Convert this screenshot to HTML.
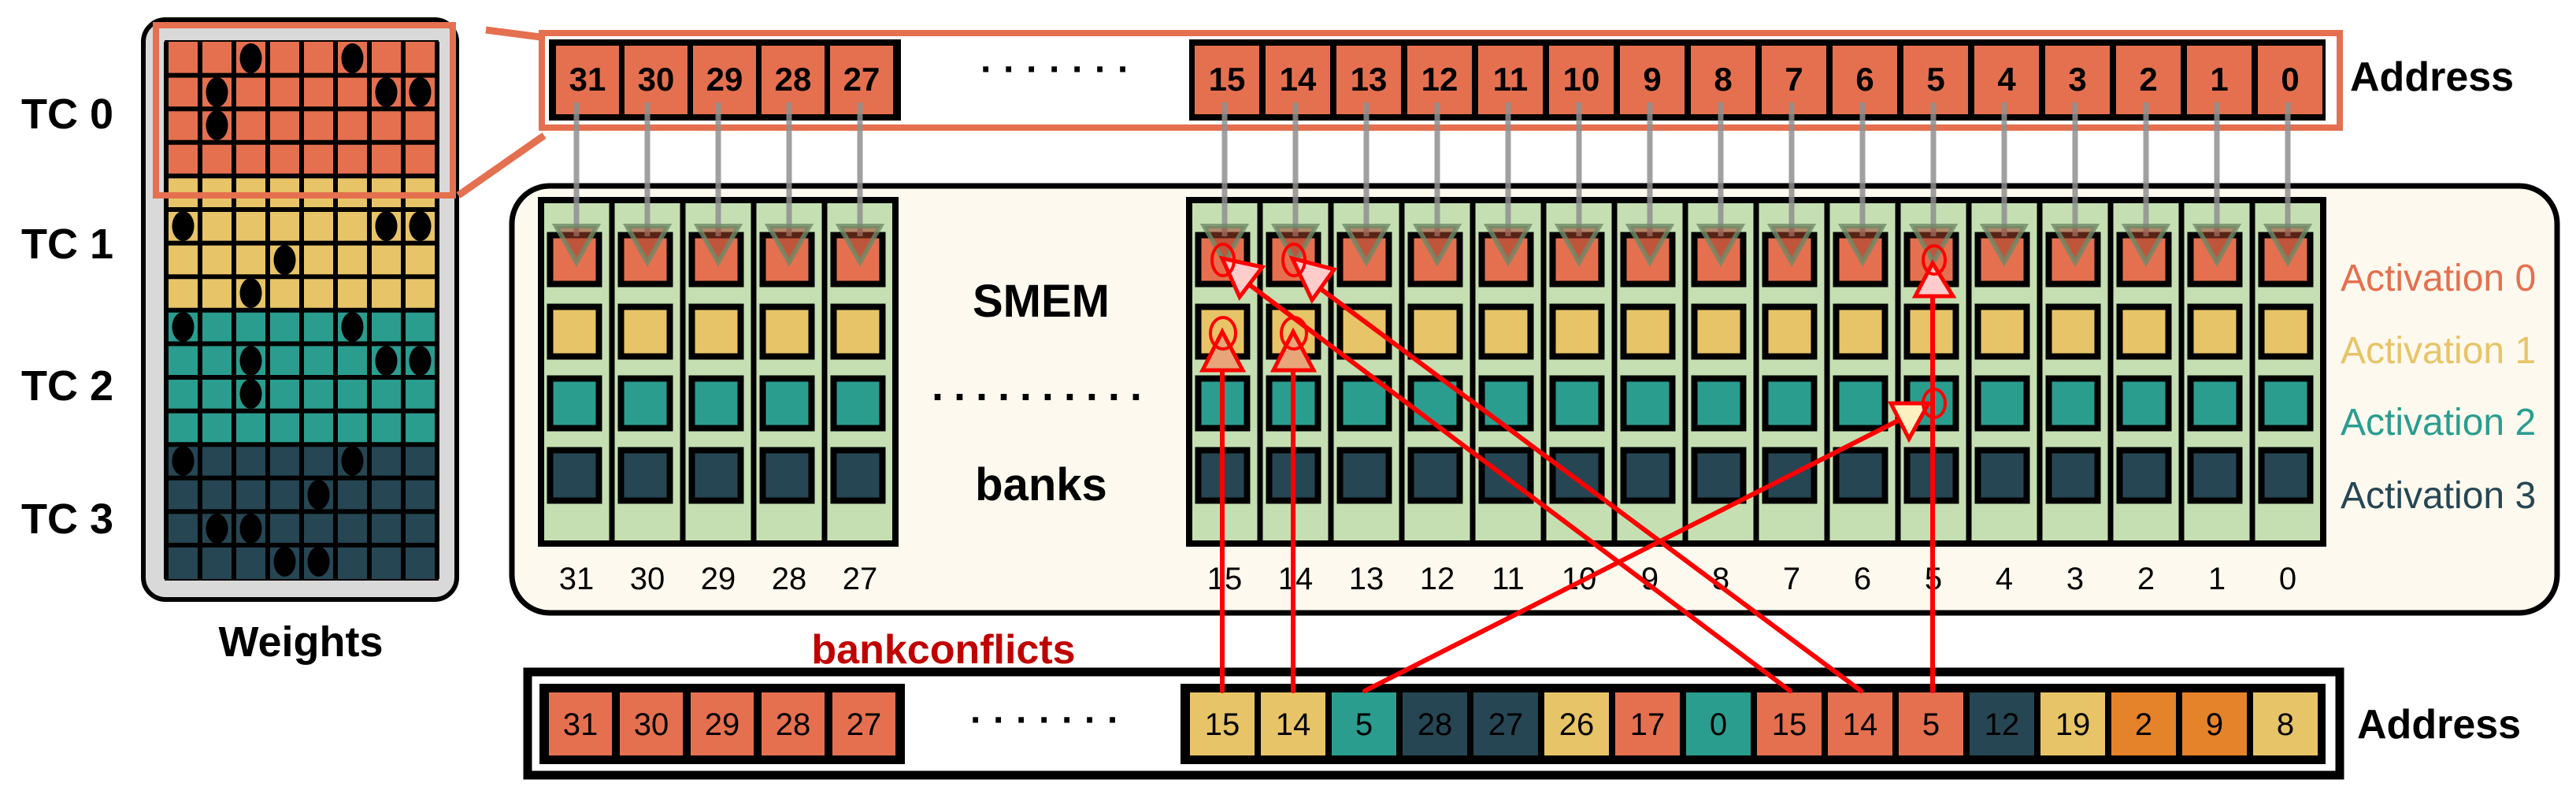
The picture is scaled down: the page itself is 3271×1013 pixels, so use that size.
<!DOCTYPE html>
<html><head><meta charset="utf-8"><style>
html,body{margin:0;padding:0;background:#fff;}
svg{display:block;}
text{font-family:"Liberation Sans",sans-serif;}
</style></head><body>
<svg width="3271" height="1013" viewBox="0 0 3271 1013" xmlns="http://www.w3.org/2000/svg">
<defs>
<g id="col">
<rect x="11.5" y="298.5" width="62" height="62" fill="#e5704f" stroke="#000" stroke-width="8"/>
<rect x="11.5" y="389.5" width="62" height="63" fill="#e8c468" stroke="#000" stroke-width="8"/>
<rect x="11.5" y="480.5" width="62" height="63" fill="#2a9d8f" stroke="#000" stroke-width="8"/>
<rect x="11.5" y="571.5" width="62" height="64" fill="#264653" stroke="#000" stroke-width="8"/>
</g>
<g id="ga">
<line x1="45" y1="130" x2="45" y2="300" stroke="#8f8f8f" stroke-opacity="0.85" stroke-width="7"/>
<polygon points="19,287 71,287 45,333" fill="#a0402a" fill-opacity="0.55" stroke="#6e8a68" stroke-opacity="0.8" stroke-width="6"/>
</g>
</defs>

<!-- Weights -->
<rect x="182" y="25" width="398" height="736" rx="28" fill="#d9d9d9" stroke="#000" stroke-width="6"/>
<rect x="209" y="51" width="348" height="686" fill="#000"/>
<rect x="211" y="53" width="344" height="170" fill="#e5704f"/>
<rect x="211" y="223" width="344" height="171" fill="#e8c468"/>
<rect x="211" y="394" width="344" height="170" fill="#2a9d8f"/>
<rect x="211" y="564" width="344" height="171" fill="#264653"/>
<g stroke="#000" stroke-width="6">
<line x1="211" y1="53" x2="211" y2="735"/><line x1="254" y1="53" x2="254" y2="735"/><line x1="297" y1="53" x2="297" y2="735"/><line x1="340" y1="53" x2="340" y2="735"/><line x1="383" y1="53" x2="383" y2="735"/><line x1="426" y1="53" x2="426" y2="735"/><line x1="469" y1="53" x2="469" y2="735"/><line x1="512" y1="53" x2="512" y2="735"/><line x1="555" y1="53" x2="555" y2="735"/>
<line x1="211" y1="95.6" x2="555" y2="95.6"/><line x1="211" y1="138.2" x2="555" y2="138.2"/><line x1="211" y1="180.8" x2="555" y2="180.8"/><line x1="211" y1="223.4" x2="555" y2="223.4"/><line x1="211" y1="266" x2="555" y2="266"/><line x1="211" y1="308.6" x2="555" y2="308.6"/><line x1="211" y1="351.2" x2="555" y2="351.2"/><line x1="211" y1="393.8" x2="555" y2="393.8"/><line x1="211" y1="436.4" x2="555" y2="436.4"/><line x1="211" y1="479" x2="555" y2="479"/><line x1="211" y1="521.6" x2="555" y2="521.6"/><line x1="211" y1="564.2" x2="555" y2="564.2"/><line x1="211" y1="606.8" x2="555" y2="606.8"/><line x1="211" y1="649.4" x2="555" y2="649.4"/><line x1="211" y1="692" x2="555" y2="692"/>
</g>
<g fill="#000">
<ellipse cx="318.5" cy="74" rx="14" ry="19"/><ellipse cx="447.5" cy="74" rx="14" ry="19"/>
<ellipse cx="275.5" cy="117" rx="14" ry="19"/><ellipse cx="490.5" cy="117" rx="14" ry="19"/><ellipse cx="533.5" cy="117" rx="14" ry="19"/>
<ellipse cx="275.5" cy="159" rx="14" ry="19"/>
<ellipse cx="232.5" cy="287" rx="14" ry="19"/><ellipse cx="490.5" cy="287" rx="14" ry="19"/><ellipse cx="533.5" cy="287" rx="14" ry="19"/>
<ellipse cx="361.5" cy="330" rx="14" ry="19"/>
<ellipse cx="318.5" cy="372" rx="14" ry="19"/>
<ellipse cx="232.5" cy="415" rx="14" ry="19"/><ellipse cx="447.5" cy="415" rx="14" ry="19"/>
<ellipse cx="318.5" cy="458" rx="14" ry="19"/><ellipse cx="490.5" cy="458" rx="14" ry="19"/><ellipse cx="533.5" cy="458" rx="14" ry="19"/>
<ellipse cx="318.5" cy="500" rx="14" ry="19"/>
<ellipse cx="232.5" cy="585" rx="14" ry="19"/><ellipse cx="447.5" cy="585" rx="14" ry="19"/>
<ellipse cx="404.5" cy="628" rx="14" ry="19"/>
<ellipse cx="275.5" cy="671" rx="14" ry="19"/><ellipse cx="318.5" cy="671" rx="14" ry="19"/>
<ellipse cx="361.5" cy="713" rx="14" ry="19"/><ellipse cx="404.5" cy="713" rx="14" ry="19"/>
</g>
<rect x="198" y="32" width="377" height="216" fill="none" stroke="#e5704f" stroke-width="8"/>
<g font-weight="bold" font-size="54" fill="#000">
<text x="27" y="163">TC 0</text><text x="27" y="328">TC 1</text><text x="27" y="508">TC 2</text><text x="27" y="677">TC 3</text>
</g>
<text x="382" y="833" font-size="54" font-weight="bold" text-anchor="middle">Weights</text>

<!-- connectors -->
<line x1="617" y1="38" x2="686" y2="47" stroke="#e5704f" stroke-width="9"/>
<line x1="582" y1="248" x2="691" y2="172" stroke="#e5704f" stroke-width="9"/>

<!-- Top address -->
<rect x="688" y="42" width="2283" height="120" fill="#fff" stroke="#e5704f" stroke-width="8"/>
<rect x="697" y="50" width="447" height="103" fill="#000"/>
<rect x="1510" y="50" width="1443" height="103" fill="#000"/>
<g fill="#e5704f">
<rect x="706" y="58" width="80" height="87"/><rect x="793" y="58" width="80" height="87"/><rect x="880" y="58" width="80" height="87"/><rect x="967" y="58" width="80" height="87"/><rect x="1054" y="58" width="80" height="87"/>
<rect x="1517" y="58" width="82" height="87"/><rect x="1607" y="58" width="82" height="87"/><rect x="1697" y="58" width="82" height="87"/><rect x="1787" y="58" width="82" height="87"/><rect x="1877" y="58" width="82" height="87"/><rect x="1967" y="58" width="82" height="87"/><rect x="2057" y="58" width="82" height="87"/><rect x="2147" y="58" width="82" height="87"/><rect x="2237" y="58" width="82" height="87"/><rect x="2327" y="58" width="82" height="87"/><rect x="2417" y="58" width="82" height="87"/><rect x="2507" y="58" width="82" height="87"/><rect x="2597" y="58" width="82" height="87"/><rect x="2687" y="58" width="82" height="87"/><rect x="2777" y="58" width="82" height="87"/><rect x="2867" y="58" width="82" height="87"/>
</g>
<g font-size="42" font-weight="bold" text-anchor="middle" fill="#000">
<text x="746" y="115">31</text><text x="833" y="115">30</text><text x="920" y="115">29</text><text x="1007" y="115">28</text><text x="1094" y="115">27</text>
<text x="1558" y="115">15</text><text x="1648" y="115">14</text><text x="1738" y="115">13</text><text x="1828" y="115">12</text><text x="1918" y="115">11</text><text x="2008" y="115">10</text><text x="2098" y="115">9</text><text x="2188" y="115">8</text><text x="2278" y="115">7</text><text x="2368" y="115">6</text><text x="2458" y="115">5</text><text x="2548" y="115">4</text><text x="2638" y="115">3</text><text x="2728" y="115">2</text><text x="2818" y="115">1</text><text x="2908" y="115">0</text>
</g>
<text x="1245" y="104" font-size="48" font-weight="bold" letter-spacing="13">·······</text>
<text x="2984" y="115" font-size="52" font-weight="bold">Address</text>

<!-- SMEM box -->
<rect x="650" y="236" width="2597" height="542" rx="48" fill="#fdf9ee" stroke="#000" stroke-width="7"/>
<rect x="687" y="254" width="450" height="436" fill="#c5dfb3" stroke="#000" stroke-width="8"/>
<rect x="1510" y="254" width="1440" height="436" fill="#c5dfb3" stroke="#000" stroke-width="8"/>
<g stroke="#000" stroke-width="7">
<line x1="777" y1="254" x2="777" y2="690"/><line x1="867" y1="254" x2="867" y2="690"/><line x1="957" y1="254" x2="957" y2="690"/><line x1="1047" y1="254" x2="1047" y2="690"/>
<line x1="1600" y1="254" x2="1600" y2="690"/><line x1="1690" y1="254" x2="1690" y2="690"/><line x1="1780" y1="254" x2="1780" y2="690"/><line x1="1870" y1="254" x2="1870" y2="690"/><line x1="1960" y1="254" x2="1960" y2="690"/><line x1="2050" y1="254" x2="2050" y2="690"/><line x1="2140" y1="254" x2="2140" y2="690"/><line x1="2230" y1="254" x2="2230" y2="690"/><line x1="2320" y1="254" x2="2320" y2="690"/><line x1="2410" y1="254" x2="2410" y2="690"/><line x1="2500" y1="254" x2="2500" y2="690"/><line x1="2590" y1="254" x2="2590" y2="690"/><line x1="2680" y1="254" x2="2680" y2="690"/><line x1="2770" y1="254" x2="2770" y2="690"/><line x1="2860" y1="254" x2="2860" y2="690"/>
</g>
<use href="#col" x="687"/><use href="#col" x="777"/><use href="#col" x="867"/><use href="#col" x="957"/><use href="#col" x="1047"/>
<use href="#col" x="1510"/><use href="#col" x="1600"/><use href="#col" x="1690"/><use href="#col" x="1780"/><use href="#col" x="1870"/><use href="#col" x="1960"/><use href="#col" x="2050"/><use href="#col" x="2140"/><use href="#col" x="2230"/><use href="#col" x="2320"/><use href="#col" x="2410"/><use href="#col" x="2500"/><use href="#col" x="2590"/><use href="#col" x="2680"/><use href="#col" x="2770"/><use href="#col" x="2860"/>
<use href="#ga" x="687"/><use href="#ga" x="777"/><use href="#ga" x="867"/><use href="#ga" x="957"/><use href="#ga" x="1047"/>
<use href="#ga" x="1510"/><use href="#ga" x="1600"/><use href="#ga" x="1690"/><use href="#ga" x="1780"/><use href="#ga" x="1870"/><use href="#ga" x="1960"/><use href="#ga" x="2050"/><use href="#ga" x="2140"/><use href="#ga" x="2230"/><use href="#ga" x="2320"/><use href="#ga" x="2410"/><use href="#ga" x="2500"/><use href="#ga" x="2590"/><use href="#ga" x="2680"/><use href="#ga" x="2770"/><use href="#ga" x="2860"/>
<g font-size="40" text-anchor="middle" fill="#000">
<text x="732" y="748">31</text><text x="822" y="748">30</text><text x="912" y="748">29</text><text x="1002" y="748">28</text><text x="1092" y="748">27</text>
<text x="1555" y="748">15</text><text x="1645" y="748">14</text><text x="1735" y="748">13</text><text x="1825" y="748">12</text><text x="1915" y="748">11</text><text x="2005" y="748">10</text><text x="2095" y="748">9</text><text x="2185" y="748">8</text><text x="2275" y="748">7</text><text x="2365" y="748">6</text><text x="2455" y="748">5</text><text x="2545" y="748">4</text><text x="2635" y="748">3</text><text x="2725" y="748">2</text><text x="2815" y="748">1</text><text x="2905" y="748">0</text>
</g>
<text x="1322" y="402" font-size="58" font-weight="bold" text-anchor="middle">SMEM</text>
<text x="1322" y="635" font-size="58" font-weight="bold" text-anchor="middle">banks</text>
<text x="1183" y="522" font-size="54" font-weight="bold" letter-spacing="10">··········</text>
<g font-size="48">
<text x="2972" y="369" fill="#e5704f">Activation 0</text>
<text x="2972" y="461" fill="#e8c468">Activation 1</text>
<text x="2972" y="552" fill="#2a9d8f">Activation 2</text>
<text x="2972" y="645" fill="#264653">Activation 3</text>
</g>

<!-- Bottom address -->
<rect x="670" y="853" width="2301" height="131" fill="#fff" stroke="#000" stroke-width="11"/>
<rect x="685" y="868" width="464" height="102" fill="#000"/>
<rect x="1499" y="868" width="1454" height="102" fill="#000"/>
<g>
<rect x="697" y="879" width="80" height="80" fill="#e5704f"/><rect x="787" y="879" width="80" height="80" fill="#e5704f"/><rect x="877" y="879" width="80" height="80" fill="#e5704f"/><rect x="967" y="879" width="80" height="80" fill="#e5704f"/><rect x="1057" y="879" width="80" height="80" fill="#e5704f"/>
<rect x="1511" y="879" width="82" height="80" fill="#e8c468"/>
<rect x="1601" y="879" width="82" height="80" fill="#e8c468"/>
<rect x="1691" y="879" width="82" height="80" fill="#2a9d8f"/>
<rect x="1781" y="879" width="82" height="80" fill="#264653"/>
<rect x="1871" y="879" width="82" height="80" fill="#264653"/>
<rect x="1961" y="879" width="82" height="80" fill="#e8c468"/>
<rect x="2051" y="879" width="82" height="80" fill="#e5704f"/>
<rect x="2141" y="879" width="82" height="80" fill="#2a9d8f"/>
<rect x="2231" y="879" width="82" height="80" fill="#e5704f"/>
<rect x="2321" y="879" width="82" height="80" fill="#e5704f"/>
<rect x="2411" y="879" width="82" height="80" fill="#e5704f"/>
<rect x="2501" y="879" width="82" height="80" fill="#264653"/>
<rect x="2591" y="879" width="82" height="80" fill="#e8c468"/>
<rect x="2681" y="879" width="82" height="80" fill="#e5832a"/>
<rect x="2771" y="879" width="82" height="80" fill="#e5832a"/>
<rect x="2861" y="879" width="82" height="80" fill="#e8c468"/>
</g>
<g font-size="40" text-anchor="middle" fill="#000">
<text x="737" y="933">31</text><text x="827" y="933">30</text><text x="917" y="933">29</text><text x="1007" y="933">28</text><text x="1097" y="933">27</text>
<text x="1552" y="933">15</text><text x="1642" y="933">14</text><text x="1732" y="933">5</text><text x="1822" y="933">28</text><text x="1912" y="933">27</text><text x="2002" y="933">26</text><text x="2092" y="933">17</text><text x="2182" y="933">0</text><text x="2272" y="933">15</text><text x="2362" y="933">14</text><text x="2452" y="933">5</text><text x="2542" y="933">12</text><text x="2632" y="933">19</text><text x="2722" y="933">2</text><text x="2812" y="933">9</text><text x="2902" y="933">8</text>
</g>
<text x="1232" y="930" font-size="48" font-weight="bold" letter-spacing="13">·······</text>
<text x="2993" y="937" font-size="52" font-weight="bold">Address</text>
<text x="1198" y="842" font-size="52" font-weight="bold" fill="#c00000" text-anchor="middle">bankconflicts</text>

<!-- red arrows -->
<g stroke="#ff0000" stroke-width="6" fill="none" stroke-linecap="round">
<line x1="1552" y1="877" x2="1552" y2="470"/>
<line x1="1642" y1="877" x2="1642" y2="470"/>
<line x1="1733" y1="877" x2="2418" y2="530"/>
<line x1="2273" y1="877" x2="1578" y2="355"/>
<line x1="2363" y1="877" x2="1668" y2="360"/>
<line x1="2454" y1="877" x2="2454" y2="376"/>
</g>
<g stroke="#ff0000" stroke-width="5" stroke-linejoin="miter">
<polygon points="1552,421 1527,470 1578,470" fill="#e8a57a"/>
<polygon points="1642,421 1617,470 1668,470" fill="#e8a57a"/>
<polygon points="2401,512 2449,512 2424,557" fill="#fdf0c0"/>
<polygon points="1552,328 1603,339 1574,377" fill="#ffcccc"/>
<polygon points="1641,328 1694,342 1666,381" fill="#ffcccc"/>
<polygon points="2454,334 2432,376 2480,376" fill="#ffcccc"/>
</g>
<g stroke="#ff0000" stroke-width="4" fill="none">
<ellipse cx="1553" cy="423" rx="16" ry="20"/>
<ellipse cx="1643" cy="423" rx="16" ry="20"/>
<ellipse cx="1553" cy="330" rx="14" ry="20"/>
<ellipse cx="1643" cy="330" rx="14" ry="20"/>
<ellipse cx="2456" cy="330" rx="14" ry="18"/>
<ellipse cx="2456" cy="512" rx="14" ry="18"/>
</g>
</svg>
</body></html>
